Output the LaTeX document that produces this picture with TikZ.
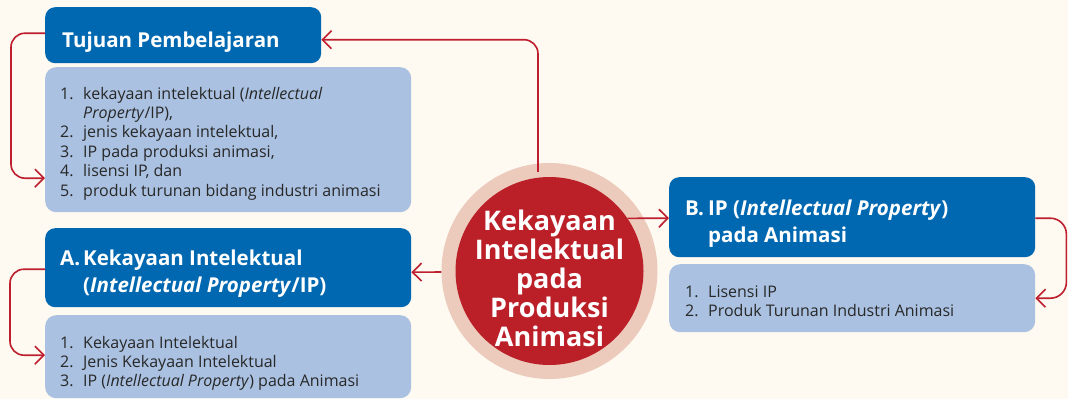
\documentclass[tikz,border=0pt]{standalone}
\usepackage{fontspec}
\setmainfont{Open Sans}
\usetikzlibrary{arrows.meta,calc}
\definecolor{bgc}{RGB}{254,249,241}
\definecolor{hblue}{RGB}{0,104,176}
\definecolor{lblue}{RGB}{170,193,225}
\definecolor{ringc}{RGB}{236,203,188}
\definecolor{corec}{RGB}{187,32,41}
\definecolor{lred}{RGB}{190,30,45}
\definecolor{tdark}{RGB}{40,40,40}
\begin{document}
\begin{tikzpicture}[x=1pt,y=-1pt,
  hdr/.style={fill=hblue, rounded corners=10pt, draw=none, inner sep=0pt, anchor=north west},
  lstbox/.style={fill=lblue, rounded corners=11pt, draw=none, inner sep=0pt, anchor=north west},
  link/.style={draw=lred, line width=1.6pt, rounded corners=14pt, -{Straight Barb[length=9pt,width=18pt]}},
  listtxt/.style={inner sep=0pt, anchor=base west, text=tdark, font=\fontsize{16}{19.4}\selectfont},
  hdrtxt/.style={inner sep=0pt, anchor=base west, text=white, font=\fontsize{20.5}{27}\bfseries\selectfont},
]
\fill[bgc] (0,0) rectangle (1068,399);
\useasboundingbox (0,0) rectangle (1068,399);

% boxes
\node[hdr, minimum width=276pt, minimum height=56pt] (tpH) at (45,7) {};
\node[lstbox, minimum width=366pt, minimum height=145pt] (tpL) at (45,67) {};
\node[hdr, minimum width=366pt, minimum height=79pt] (aH) at (45,228) {};
\node[lstbox, minimum width=366pt, minimum height=83pt] (aL) at (45,315) {};
\node[hdr, minimum width=366pt, minimum height=80pt] (bH) at (669,177) {};
\node[lstbox, minimum width=366pt, minimum height=68pt] (bL) at (669,264) {};

% central circle
\node[circle, fill=ringc, minimum size=216pt, inner sep=0pt] (ring) at (549.5,271) {};
\node[circle, fill=corec, minimum size=188pt, inner sep=0pt] (core) at (549.5,271) {};
\node[inner sep=0pt, anchor=base, text=white, font=\fontsize{27}{28.3}\bfseries\selectfont] (ctext) at (549.5,230)
  {\begin{tabular}[t]{@{}c@{}}Kekayaan\\Intelektual\\pada\\Produksi\\Animasi\end{tabular}};

% texts
\node[inner sep=0pt, anchor=base west, text=white, font=\fontsize{20.5}{25}\bfseries\selectfont] (tpT) at (62,47) {Tujuan Pembelajaran};
\node[listtxt] (tpX) at (60,99) {\begin{tabular}[t]{@{}p{23pt}@{}l@{}}
1.&kekayaan intelektual (\textit{Intellectual}\\
  &\textit{Property}/IP),\\
2.&jenis kekayaan intelektual,\\
3.&IP pada produksi animasi,\\
4.&lisensi IP, dan\\
5.&produk turunan bidang industri animasi\end{tabular}};

\node[hdrtxt] (aT) at (60,265) {\begin{tabular}[t]{@{}p{23pt}@{}l@{}}
A.&Kekayaan Intelektual\\
  &(\textit{Intellectual Property}/IP)\end{tabular}};
\node[listtxt] (aX) at (60,348) {\begin{tabular}[t]{@{}p{23pt}@{}l@{}}
1.&Kekayaan Intelektual\\
2.&Jenis Kekayaan Intelektual\\
3.&IP (\textit{Intellectual Property}) pada Animasi\end{tabular}};

\node[hdrtxt] (bT) at (685,215) {\begin{tabular}[t]{@{}p{23pt}@{}l@{}}
B.&IP (\textit{Intellectual Property})\\
  &pada Animasi\end{tabular}};
\node[listtxt] (bX) at (685,297) {\begin{tabular}[t]{@{}p{23pt}@{}l@{}}
1.&Lisensi IP\\
2.&Produk Turunan Industri Animasi\end{tabular}};

% connectors
\coordinate (top) at ([xshift=-11.5pt,yshift=-9pt]ring.north);
\draw[link] (top) |- ([yshift=-4.5pt]tpH.east);
\draw[link] ([yshift=2pt]tpH.west) -- ++(-34,0) |- ([yshift=-38.5pt]tpL.west);
\draw[link] ([yshift=-1pt]ring.west) -- ([yshift=-4.5pt]aH.east);
\draw[link] ([yshift=-1.5pt]aH.west) -- ++(-35,0) |- ([yshift=1.5pt]aL.west);
\draw[link] (core.34.3) -- ([yshift=-1pt]bH.west);
\draw[link, rounded corners=16pt] ([yshift=-1pt]bH.east) -- ++(31,0) |- (bL.east);
\end{tikzpicture}
\end{document}
